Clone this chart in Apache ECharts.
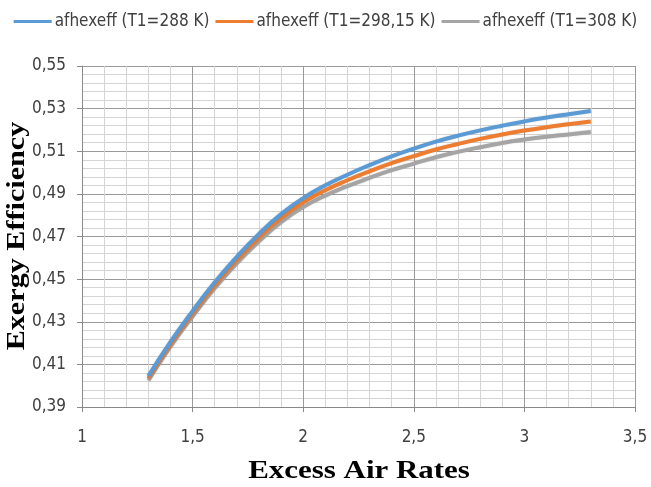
<!DOCTYPE html>
<html>
<head>
<meta charset="utf-8">
<script src="https://cdn.jsdelivr.net/npm/echarts@6/dist/echarts.min.js"></script>
<style>
html, body { margin: 0; padding: 0; background: #fff; }
#chart { width: 651px; height: 487px; }
</style>
</head>
<body>
<div id="chart"></div>
<script>
// excess air rate
var airRates = [1.3, 1.4, 1.5, 1.6, 1.7, 1.8, 1.9, 2.0, 2.1, 2.2, 2.3, 2.4, 2.5, 2.6, 2.7, 2.8, 2.9, 3.0, 3.1, 3.2, 3.3];
var eff288 = [0.4045, 0.4205, 0.4350, 0.4485, 0.4605, 0.4712, 0.4805, 0.4880, 0.4940, 0.4990, 0.5035, 0.5076, 0.5112, 0.5145, 0.5173, 0.5198, 0.5220, 0.5240, 0.5258, 0.5274, 0.5289];
var eff298 = [0.4035, 0.4194, 0.4338, 0.4471, 0.4590, 0.4695, 0.4787, 0.4860, 0.4917, 0.4964, 0.5006, 0.5044, 0.5077, 0.5108, 0.5134, 0.5158, 0.5179, 0.5197, 0.5213, 0.5227, 0.5240];
var eff308 = [0.4025, 0.4183, 0.4325, 0.4457, 0.4574, 0.4677, 0.4767, 0.4838, 0.4892, 0.4936, 0.4975, 0.5011, 0.5042, 0.5072, 0.5097, 0.5119, 0.5139, 0.5155, 0.5168, 0.5179, 0.5190];
var seriesNames = ['afhexeff (T1=288 K)', 'afhexeff (T1=298,15 K)', 'afhexeff (T1=308 K)'];
var colors = ['#5b9bd5', '#ed7d31', '#a5a5a5'];
var xTitle = 'Excess Air Rates';
var yTitle = 'Exergy Efficiency';

var labelFont = '"Liberation Sans Narrow", "DejaVu Sans Condensed", sans-serif';
var titleFont = 'bold 26px "Liberation Serif", serif';

function pairs(xs, ys) {
    var out = [];
    for (var i = 0; i < xs.length; i++) out.push([xs[i], ys[i]]);
    return out;
}

var mychart = echarts.init(document.getElementById('chart'));
var series = [];
[eff288, eff298, eff308].forEach(function (d, i) {
    series.push({
        name: seriesNames[i],
        type: 'line',
        smooth: true,
        showSymbol: false,
        data: pairs(airRates, d),
        lineStyle: {
            width: 4,
            color: colors[i],
            shadowColor: 'rgba(0,0,0,0.15)',
            shadowBlur: 2
        },
        itemStyle: { color: colors[i] },
        z: 3 - i
    });
});

var option = {
    animation: false,
    legend: {
        top: 8,
        left: 'center',
        itemWidth: 38,
        itemHeight: 3,
        itemGap: 6,
        icon: 'rect',
        textStyle: {
            color: '#404040',
            fontSize: 17,
            fontFamily: labelFont,
            padding: [0, 0, 0, -2]
        },
        data: seriesNames
    },
    // axis titles are stretched in the original, so draw them as graphic text
    graphic: [
        {
            type: 'text',
            x: 359,
            y: 471,
            scaleX: 1.19,
            style: {
                text: xTitle,
                font: titleFont,
                fill: '#000',
                align: 'center',
                verticalAlign: 'middle'
            }
        },
        {
            type: 'text',
            x: 17,
            y: 236,
            rotation: Math.PI / 2,
            scaleX: 1.16,
            style: {
                text: yTitle,
                font: titleFont,
                fill: '#000',
                align: 'center',
                verticalAlign: 'middle'
            }
        }
    ],
    grid: {
        left: 82,
        right: 16,
        top: 66,
        bottom: 80,
        outerBoundsMode: 'none'
    },
    xAxis: {
        type: 'value',
        min: 1,
        max: 3.5,
        interval: 0.5,
        axisLabel: {
            margin: 22,
            color: '#404040',
            fontSize: 17,
            fontFamily: labelFont,
            formatter: function (v) { return String(v).replace('.', ','); }
        },
        axisLine: { show: true, lineStyle: { color: '#888', width: 1 } },
        axisTick: { show: true, length: 5, lineStyle: { color: '#888' } },
        splitLine: { show: true, lineStyle: { color: '#9a9a9a', width: 1 } },
        minorTick: { show: false, splitNumber: 5 },
        minorSplitLine: { show: true, lineStyle: { color: '#d4d4d4', width: 1 } }
    },
    yAxis: {
        type: 'value',
        min: 0.39,
        max: 0.55,
        interval: 0.02,
        axisLabel: {
            margin: 16,
            color: '#404040',
            fontSize: 17,
            fontFamily: labelFont,
            formatter: function (v) { return v.toFixed(2).replace('.', ','); }
        },
        axisLine: { show: true, lineStyle: { color: '#888', width: 1 } },
        axisTick: { show: true, length: 5, lineStyle: { color: '#888' } },
        splitLine: { show: true, lineStyle: { color: '#9a9a9a', width: 1 } },
        minorTick: { show: false, splitNumber: 5 },
        minorSplitLine: { show: true, lineStyle: { color: '#d4d4d4', width: 1 } }
    },
    series: series
};
mychart.setOption(option);
</script>
</body>
</html>
